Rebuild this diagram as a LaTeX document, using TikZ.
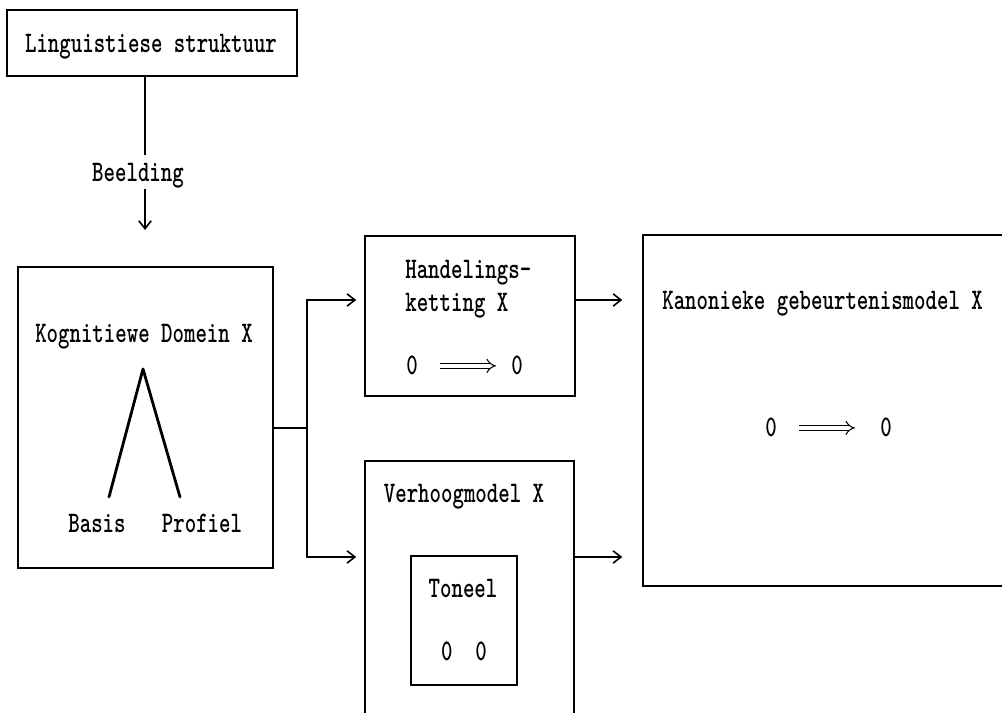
\documentclass[tikz,border=0pt]{standalone}
\usepackage{graphicx}
\usepackage{tikz}
\usetikzlibrary{arrows.meta,calc,positioning}
\tikzstyle{box} = [draw, line width=0.9pt, inner sep=0pt]
\tikzstyle{lbl} = [font={\fontsize{17}{19}\selectfont\ttfamily\bfseries}, inner sep=0pt, anchor=base]
\tikzstyle{conn} = [line width=0.9pt, -{Straight Barb[length=4.5pt,width=7pt]}]
\tikzstyle{dubbel} = [double, double distance=2.2pt, line width=0.6pt, -{Implies}]
\newcommand{\tw}[1]{\scalebox{0.73}[1]{#1}}

\begin{document}
\begin{tikzpicture}[x=0.02cm, y=-0.02cm]
\useasboundingbox (0,0) rectangle (1002,713);
\clip (0,0) rectangle (1002,713);

\node[box, minimum width=5.8cm, minimum height=1.32cm] (ling) at (152,43) {};
\node[lbl] (lingtxt) at (151,53) {\tw{Linguistiese struktuur}};

\node[lbl] (beeld) at (138,182) {\tw{Beelding}};
\coordinate (tip) at (145,230);
\draw[line width=0.9pt, shorten >=0.16cm] (ling.south -| tip) -- (tip |- beeld.north);
\draw[conn] (tip |- beeld.south) -- (tip);

\node[box, minimum width=5.1cm, minimum height=6.02cm] (dom) at (145.5,417.5) {};
\node[lbl] (domtxt) at (144,342) {\tw{Kognitiewe Domein X}};
\coordinate (top) at (143,369);
\coordinate (lft) at (109,497);
\coordinate (rgt) at (180,497);
\draw[line width=1.6pt, line cap=round, line join=round] (lft) -- (top) -- (rgt);
\node[lbl] (basis) at (97,532) {\tw{Basis}};
\node[lbl] (profiel) at (202,532) {\tw{Profiel}};

\node[box, minimum width=4.2cm, minimum height=3.2cm] (hand) at (470,316) {};
\node[lbl, anchor=base west] (hand1) at (405,278) {\tw{Handelings-}};
\node[lbl, anchor=base west] (hand2) at (405,312) {\tw{ketting X}};
\node[lbl] (hnul1) at (412,375) {\tw{0}};
\node[lbl] (hnul2) at (517,375) {\tw{0}};
\draw[dubbel, shorten <=0.44cm, shorten >=0.3cm] (hnul1.east) -- (hnul2.west);

\node[box, minimum width=4.18cm, minimum height=5.98cm] (verh) at (469.5,610.5) {};
\node[lbl] (verhtxt) at (464,502) {\tw{Verhoogmodel X}};
\node[box, minimum width=2.12cm, minimum height=2.58cm] (toneel) at (464,620.5) {};
\node[lbl] (toneeltxt) at (463,597) {\tw{Toneel}};
\node[lbl] (toneelnul) at (464,660) {\tw{0\ \ 0}};

\node[box, minimum width=8.14cm, minimum height=7.02cm] (kan) at (846.5,410.5) {};
\node[lbl, anchor=base west] (kantxt) at (662,310) {\tw{Kanonieke gebeurtenismodel X}};
\node[lbl] (knul1) at (771,437) {\tw{0}};
\node[lbl] (knul2) at (886,437) {\tw{0}};
\draw[dubbel, shorten <=0.44cm, shorten >=0.5cm] (knul1.east) -- (knul2.west);

\coordinate (split) at (307,428);
\coordinate (row1) at (307,300);
\coordinate (row2) at (307,557);
\draw[line width=1.4pt] (dom.east |- split) -- (split);
\draw[conn, shorten >=0.16cm] (split) |- (row1 -| hand.west);
\draw[conn, shorten >=0.16cm] (split) |- (row2 -| verh.west);
\draw[conn, shorten >=0.4cm] (row1 -| hand.east) -- (row1 -| kan.west);
\draw[conn, shorten >=0.4cm] (row2 -| verh.east) -- (row2 -| kan.west);
\end{tikzpicture}
\end{document}
